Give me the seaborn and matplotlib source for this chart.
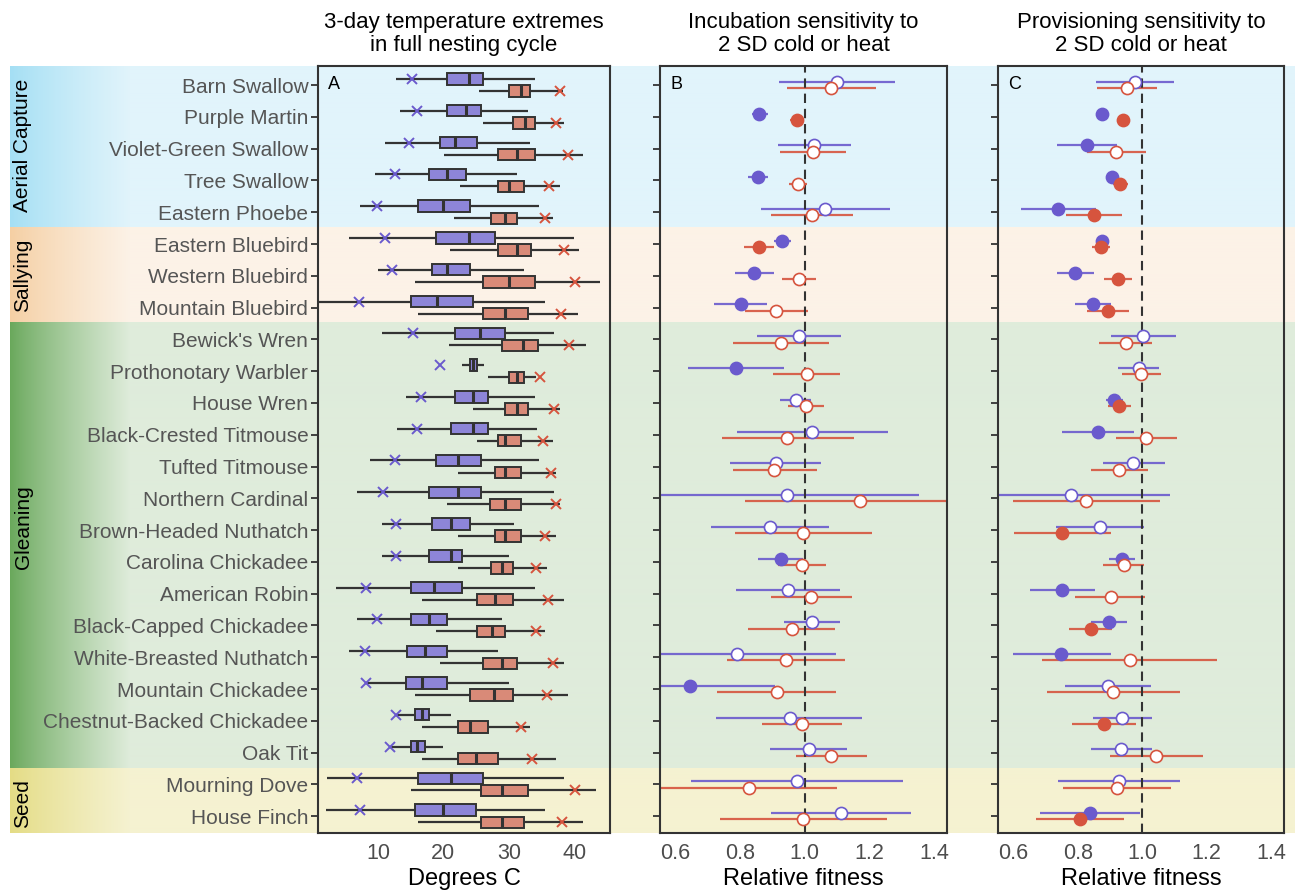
import numpy as np
import pandas as pd
import matplotlib
matplotlib.use("Agg")
import matplotlib.pyplot as plt
import seaborn as sns
from matplotlib.colors import to_rgb

# ---------------- data ----------------
species = ["Barn Swallow", "Purple Martin", "Violet-Green Swallow", "Tree Swallow",
           "Eastern Phoebe", "Eastern Bluebird", "Western Bluebird", "Mountain Bluebird",
           "Bewick's Wren", "Prothonotary Warbler", "House Wren", "Black-Crested Titmouse",
           "Tufted Titmouse", "Northern Cardinal", "Brown-Headed Nuthatch",
           "Carolina Chickadee", "American Robin", "Black-Capped Chickadee",
           "White-Breasted Nuthatch", "Mountain Chickadee", "Chestnut-Backed Chickadee",
           "Oak Tit", "Mourning Dove", "House Finch"]
guilds = ["Aerial Capture", "Sallying", "Gleaning", "Seed"]
guild_sizes = [5, 3, 14, 2]

# Panel A: 3-day temperature extremes (deg C) -- cold (min) and heat (max)
cold_lo  = [12.7, 13.4, 11.1, 9.6, 7.3, 5.6, 10.0, 0.5, 10.6, 22.8, 14.3, 12.9, 8.8, 6.7, 10.6, 10.6, 3.5, 6.7, 5.6, 8.0, 12.8, 11.8, 2.2, 2.1]
cold_q1  = [20.6, 20.6, 19.4, 17.8, 16.1, 18.9, 18.3, 15.0, 21.7, 24.0, 21.7, 21.1, 18.9, 17.8, 18.3, 17.8, 15.0, 15.0, 14.4, 14.3, 15.6, 15.0, 16.1, 15.6]
cold_med = [23.9, 23.4, 21.7, 20.6, 20.0, 23.9, 20.5, 19.0, 25.6, 24.6, 24.5, 24.5, 22.2, 22.2, 21.1, 21.1, 18.5, 17.8, 17.2, 16.7, 16.7, 15.9, 21.2, 19.9]
cold_q3  = [26.1, 25.7, 25.1, 23.4, 24.0, 27.9, 24.0, 24.5, 29.5, 25.1, 26.8, 26.8, 25.7, 25.7, 24.0, 22.8, 22.8, 20.6, 20.6, 20.6, 17.8, 17.2, 26.1, 25.0]
cold_hi  = [34.0, 32.9, 33.3, 31.2, 34.6, 40.0, 32.3, 35.6, 36.9, 26.2, 34.0, 34.4, 34.6, 36.9, 30.8, 30.0, 34.0, 28.9, 28.3, 30.1, 21.2, 19.9, 38.4, 35.6]
cold_x   = [15.2, 15.9, 14.7, 12.6, 9.9, 11.1, 12.1, 7.1, 15.4, 19.4, 16.5, 15.9, 12.6, 10.8, 12.8, 12.8, 8.2, 9.8, 8.0, 8.2, 12.8, 11.8, 6.7, 7.3]

heat_lo  = [25.5, 26.1, 20.1, 22.5, 21.6, 21.0, 15.6, 16.1, 20.9, 26.8, 24.5, 25.1, 22.3, 20.5, 22.3, 22.2, 16.7, 18.9, 19.4, 15.6, 16.7, 16.7, 15.0, 16.1]
heat_q1  = [30.0, 30.7, 28.4, 28.4, 27.3, 28.4, 26.1, 26.1, 28.9, 30.0, 29.4, 28.3, 27.9, 27.1, 27.9, 27.3, 25.1, 25.1, 26.1, 24.0, 22.2, 22.2, 25.7, 25.7]
heat_med = [31.9, 32.5, 31.2, 30.0, 29.5, 31.2, 30.1, 29.5, 32.2, 31.2, 31.2, 29.4, 29.5, 29.5, 29.5, 28.9, 27.9, 27.5, 28.9, 27.8, 24.0, 25.0, 28.9, 28.9]
heat_q3  = [33.3, 34.0, 34.0, 32.3, 31.2, 33.4, 34.0, 32.9, 34.5, 32.3, 32.9, 31.8, 31.8, 31.8, 31.8, 30.7, 30.7, 29.5, 31.2, 30.7, 26.8, 28.4, 32.9, 32.3]
heat_hi  = [38.3, 38.4, 41.3, 37.9, 36.7, 40.8, 44.0, 40.6, 41.9, 34.2, 37.9, 36.7, 37.3, 37.9, 37.3, 35.8, 38.4, 35.6, 38.4, 39.0, 33.3, 37.3, 43.4, 41.3]
heat_x   = [37.9, 37.2, 39.0, 36.2, 35.6, 38.5, 40.2, 38.0, 39.3, 34.8, 36.9, 35.3, 36.4, 37.3, 35.5, 34.2, 36.0, 34.1, 36.7, 35.9, 31.9, 33.5, 40.2, 38.2]

# Panel B: incubation sensitivity (relative fitness)
inc_cold_est = [1.100, 0.860, 1.030, 0.855, 1.064, 0.930, 0.845, 0.802, 0.983, 0.789, 0.972, 1.024, 0.911, 0.946, 0.892, 0.926, 0.948, 1.023, 0.791, 0.647, 0.955, 1.012, 0.976, 1.112]
inc_cold_lo  = [0.920, 0.836, 0.918, 0.825, 0.864, 0.904, 0.786, 0.721, 0.854, 0.640, 0.924, 0.791, 0.769, 0.537, 0.711, 0.856, 0.789, 0.936, 0.480, 0.380, 0.726, 0.892, 0.650, 0.895]
inc_cold_hi  = [1.280, 0.887, 1.143, 0.888, 1.264, 0.957, 0.904, 0.884, 1.112, 0.937, 1.021, 1.257, 1.052, 1.355, 1.074, 0.995, 1.108, 1.110, 1.098, 0.908, 1.178, 1.130, 1.304, 1.330]
inc_cold_sig = [0, 1, 0, 1, 0, 1, 1, 1, 0, 1, 0, 0, 0, 0, 0, 1, 0, 0, 0, 1, 0, 0, 0, 0]
inc_heat_est = [1.080, 0.976, 1.026, 0.980, 1.022, 0.859, 0.982, 0.912, 0.927, 1.006, 1.005, 0.947, 0.906, 1.171, 0.996, 0.991, 1.019, 0.960, 0.941, 0.914, 0.991, 1.082, 0.829, 0.996]
inc_heat_lo  = [0.945, 0.956, 0.925, 0.953, 0.896, 0.812, 0.931, 0.815, 0.780, 0.901, 0.950, 0.744, 0.779, 0.815, 0.786, 0.919, 0.895, 0.824, 0.759, 0.728, 0.868, 0.973, 0.555, 0.739]
inc_heat_hi  = [1.220, 0.999, 1.129, 1.007, 1.149, 0.905, 1.034, 1.010, 1.074, 1.110, 1.060, 1.152, 1.037, 1.527, 1.208, 1.065, 1.145, 1.095, 1.126, 1.097, 1.114, 1.194, 1.099, 1.256]
inc_heat_sig = [0, 1, 0, 0, 0, 1, 0, 0, 0, 0, 0, 0, 0, 0, 0, 0, 0, 0, 0, 0, 0, 0, 0, 0]

# Panel C: provisioning sensitivity (relative fitness)
pro_cold_est = [0.977, 0.875, 0.829, 0.906, 0.740, 0.876, 0.792, 0.847, 1.002, 0.989, 0.913, 0.863, 0.972, 0.778, 0.869, 0.937, 0.752, 0.898, 0.749, 0.893, 0.939, 0.936, 0.929, 0.838]
pro_cold_lo  = [0.856, 0.861, 0.737, 0.892, 0.623, 0.863, 0.737, 0.793, 0.903, 0.925, 0.888, 0.751, 0.878, 0.470, 0.733, 0.897, 0.651, 0.840, 0.598, 0.762, 0.847, 0.840, 0.739, 0.684]
pro_cold_hi  = [1.100, 0.892, 0.923, 0.920, 0.858, 0.889, 0.850, 0.902, 1.105, 1.052, 0.940, 0.974, 1.070, 1.087, 1.007, 0.977, 0.854, 0.953, 0.902, 1.027, 1.031, 1.031, 1.117, 0.993]
pro_cold_sig = [0, 1, 1, 1, 1, 1, 1, 1, 0, 0, 1, 1, 0, 0, 0, 1, 1, 1, 1, 0, 0, 0, 0, 1]
pro_heat_est = [0.952, 0.942, 0.919, 0.931, 0.851, 0.872, 0.924, 0.895, 0.949, 0.997, 0.929, 1.012, 0.928, 0.827, 0.753, 0.943, 0.902, 0.840, 0.962, 0.909, 0.882, 1.044, 0.921, 0.807]
pro_heat_lo  = [0.860, 0.926, 0.830, 0.910, 0.764, 0.846, 0.881, 0.830, 0.867, 0.938, 0.895, 0.918, 0.841, 0.600, 0.602, 0.878, 0.793, 0.774, 0.691, 0.706, 0.784, 0.899, 0.756, 0.671]
pro_heat_hi  = [1.046, 0.959, 1.011, 0.955, 0.939, 0.901, 0.970, 0.960, 1.031, 1.060, 0.965, 1.107, 1.017, 1.055, 0.905, 1.007, 1.010, 0.907, 1.232, 1.117, 0.981, 1.188, 1.088, 0.943]
pro_heat_sig = [0, 1, 0, 1, 1, 1, 1, 1, 0, 0, 1, 0, 0, 0, 1, 0, 0, 1, 0, 0, 1, 0, 0, 1]

titles = ["3-day temperature extremes\nin full nesting cycle",
          "Incubation sensitivity to\n2 SD cold or heat",
          "Provisioning sensitivity to\n2 SD cold or heat"]
panel_letters = ["A", "B", "C"]
xlabels = ["Degrees C", "Relative fitness", "Relative fitness"]
temp_ticks = [10, 20, 30, 40]
fit_ticks = [0.6, 0.8, 1.0, 1.2, 1.4]

# ---------------- style ----------------
sns.set_style("ticks")
plt.rcParams["font.family"] = ["Liberation Sans", "DejaVu Sans"]

BOX_BLUE = "#8d85d8"
BOX_RED = "#d98a78"
PT_BLUE = "#6a5acd"
PT_RED = "#d6543e"
DARK = "#333333"

band_left = ["#a4dff4", "#f5cfa3", "#69a85b", "#e4dc84"]
band_light = ["#e1f4fb", "#fcf2e7", "#dfecdb", "#f5f2d1"]
label_rows = [1.9, 6.0, 13.9, 22.6]

W, H = 1298, 892
fig = plt.figure(figsize=(W / 100, H / 100), dpi=100)

n = len(species)
ytop, ybot = -0.6, n - 0.47
ax_bottom = (H - 833) / H
ax_height = 767 / H

# background bands with gradient
bg = fig.add_axes([10 / W, ax_bottom, 1285 / W, ax_height], zorder=0)
bounds = np.concatenate([[ytop], np.cumsum(guild_sizes) - 0.5])
bounds[-1] = ybot
xs = np.arange(1285)
t = np.clip(xs / 120.0, 0, 1) ** 0.85
for gi in range(len(guilds)):
    lc = np.array(to_rgb(band_left[gi]))
    hc = np.array(to_rgb(band_light[gi]))
    img = lc[None, :] * (1 - t)[:, None] + hc[None, :] * t[:, None]
    bg.imshow(img[None, :, :], extent=(0, 1285, bounds[gi + 1], bounds[gi]),
              aspect="auto", interpolation="bilinear")
    bg.text(13, label_rows[gi], guilds[gi], rotation=90, ha="center", va="center",
            fontsize=15, color="black")
bg.set_xlim(0, 1285)
bg.set_ylim(ybot, ytop)
bg.axis("off")

axA = fig.add_axes([318 / W, ax_bottom, 292 / W, ax_height], zorder=1)
axB = fig.add_axes([660 / W, ax_bottom, 287 / W, ax_height], zorder=1)
axC = fig.add_axes([998 / W, ax_bottom, 286 / W, ax_height], zorder=1)
axes = [axA, axB, axC]

# ---------------- Panel A ----------------
rows = []
for i, sp in enumerate(species):
    for kind, arrs in (("Cold", (cold_lo, cold_q1, cold_med, cold_q3, cold_hi)),
                       ("Heat", (heat_lo, heat_q1, heat_med, heat_q3, heat_hi))):
        for a in arrs:
            rows.append((sp, kind, a[i]))
dfA = pd.DataFrame(rows, columns=["species", "kind", "temp"])

sns.boxplot(data=dfA, x="temp", y="species", hue="kind", order=species,
            hue_order=["Cold", "Heat"], palette={"Cold": BOX_BLUE, "Heat": BOX_RED},
            whis=(0, 100), width=0.76, gap=0.06, saturation=1, linecolor=DARK,
            linewidth=1.4, fliersize=0, showcaps=False,
            medianprops=dict(linewidth=2.2), whiskerprops=dict(linewidth=1.6),
            legend=False, ax=axA)
ypos = np.arange(n)
axA.plot(cold_x, ypos - 0.19, "x", color=PT_BLUE, ms=7, mew=1.4, zorder=5)
axA.plot(heat_x, ypos + 0.19, "x", color=PT_RED, ms=7, mew=1.4, zorder=5)
axA.set_xlim(0.8, 45.5)
axA.set_xticks(temp_ticks)
axA.set_xticklabels([str(v) for v in temp_ticks])
axA.set_yticks(ypos)
axA.set_yticklabels(species, fontsize=15, color="#555555")


# ---------------- Panels B, C ----------------
def forest(ax, series):
    for est, lo, hi, sig, col, off in series:
        est = np.asarray(est)
        yy = ypos + off
        ax.hlines(yy, lo, hi, color=col, lw=1.6, alpha=0.9, zorder=2)
        sig = np.asarray(sig, bool)
        if sig.any():
            sns.scatterplot(x=est[sig], y=yy[sig], color=col, edgecolor=col, s=76,
                            linewidth=1.2, zorder=4, ax=ax)
        if (~sig).any():
            sns.scatterplot(x=est[~sig], y=yy[~sig], color="white", edgecolor=col, s=76,
                            linewidth=1.2, zorder=4, ax=ax)
    ax.axvline(1.0, color=DARK, lw=1.5, ls=(0, (4.5, 2.8)), zorder=3)
    ax.set_xlim(0.553, 1.44)
    ax.set_xticks(fit_ticks)
    ax.set_xticklabels([f"{v:.1f}" for v in fit_ticks])
    ax.set_yticks(ypos)
    ax.set_yticklabels([])


forest(axB, [(inc_cold_est, inc_cold_lo, inc_cold_hi, inc_cold_sig, PT_BLUE, -0.1),
             (inc_heat_est, inc_heat_lo, inc_heat_hi, inc_heat_sig, PT_RED, 0.1)])
forest(axC, [(pro_cold_est, pro_cold_lo, pro_cold_hi, pro_cold_sig, PT_BLUE, -0.1),
             (pro_heat_est, pro_heat_lo, pro_heat_hi, pro_heat_sig, PT_RED, 0.1)])

for ax, title, letter, xl in zip(axes, titles, panel_letters, xlabels):
    ax.set_facecolor("none")
    for s in ax.spines.values():
        s.set_visible(True)
        s.set_color(DARK)
        s.set_linewidth(1.5)
    ax.set_ylim(ybot, ytop)
    ax.tick_params(axis="y", length=5, width=1.3, color=DARK, pad=2)
    ax.tick_params(axis="x", length=0, pad=7, labelsize=15.5, labelcolor="#4d4d4d")
    ax.set_title(title, fontsize=16, pad=10.5, linespacing=1.15, color="black")
    ax.set_xlabel(xl, fontsize=17, labelpad=3, color="black")
    ax.set_ylabel("")
    ax.text(0.035, 0.987, letter, transform=ax.transAxes, ha="left", va="top",
            fontsize=13, color="black")

fig.savefig("out.png", dpi=100)
